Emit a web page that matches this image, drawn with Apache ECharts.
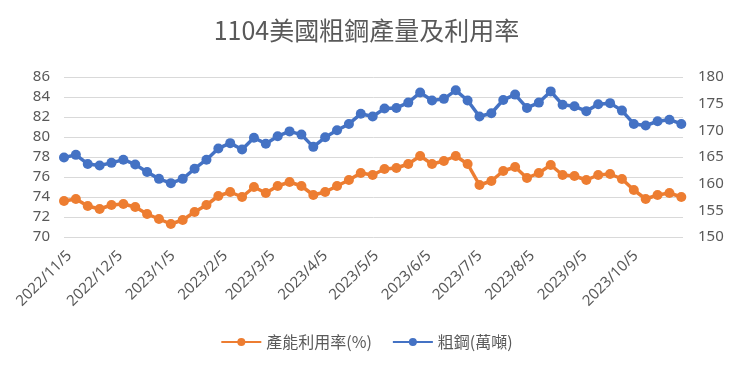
<!DOCTYPE html>
<html>
<head>
<meta charset="utf-8">
<script src="https://cdn.jsdelivr.net/npm/echarts@6/dist/echarts.min.js"></script>
<style>
html,body{margin:0;padding:0;background:#fff;}
#c{width:733px;height:368px;}
</style>
</head>
<body>
<div id="c"></div>
<script>
const dates = [
  '2022/11/5','2022/11/12','2022/11/19','2022/11/26','2022/12/3','2022/12/10','2022/12/17','2022/12/24','2022/12/31',
  '2023/1/7','2023/1/14','2023/1/21','2023/1/28','2023/2/4','2023/2/11','2023/2/18','2023/2/25',
  '2023/3/4','2023/3/11','2023/3/18','2023/3/25','2023/4/1','2023/4/8','2023/4/15','2023/4/22','2023/4/29',
  '2023/5/6','2023/5/13','2023/5/20','2023/5/27','2023/6/3','2023/6/10','2023/6/17','2023/6/24',
  '2023/7/1','2023/7/8','2023/7/15','2023/7/22','2023/7/29','2023/8/5','2023/8/12','2023/8/19','2023/8/26',
  '2023/9/2','2023/9/9','2023/9/16','2023/9/23','2023/9/30','2023/10/7','2023/10/14','2023/10/21','2023/10/28','2023/11/4'
];
const utilization = [
  73.6,73.8,73.1,72.8,73.2,73.3,73.0,72.3,71.8,71.3,71.7,72.5,73.2,74.1,74.5,74.0,75.0,74.4,75.1,75.5,75.1,74.2,74.5,75.1,75.7,76.4,76.2,
  76.8,76.9,77.3,78.1,77.3,77.6,78.1,77.3,75.2,75.6,76.6,77.0,75.9,76.4,77.2,76.2,76.1,75.7,76.2,76.3,75.8,74.7,73.8,74.2,74.4,74.0
];
const steel = [
  164.9,165.4,163.7,163.4,163.9,164.5,163.6,162.2,160.9,160.1,160.9,162.8,164.5,166.6,167.6,166.4,168.6,167.5,168.9,169.8,169.2,166.9,168.7,170.0,171.2,173.1,172.6,
  174.1,174.2,175.2,177.1,175.6,175.9,177.5,175.6,172.6,173.2,175.7,176.7,174.2,175.2,177.3,174.8,174.5,173.6,174.9,175.1,173.7,171.2,170.9,171.7,172.0,171.2
];
const xTickLabels = ['2022/11/5','2022/12/5','2023/1/5','2023/2/5','2023/3/5','2023/4/5','2023/5/5','2023/6/5','2023/7/5','2023/8/5','2023/9/5','2023/10/5'];
const leftTicks = [70,72,74,76,78,80,82,84,86];
const rightTicks = [150,155,160,165,170,175,180];
const titleText = '1104美國粗鋼產量及利用率';
const seriesNames = ['產能利用率(%)','粗鋼(萬噸)'];

const DAY = 86400000;
const T0 = Date.UTC(2022, 10, 5);
function toDay(s){ const p = s.split('/').map(Number); return Math.round((Date.UTC(p[0], p[1]-1, p[2]) - T0) / DAY); }
function fmt(v){ const d = new Date(T0 + Math.round(v) * DAY); return d.getUTCFullYear() + '/' + (d.getUTCMonth()+1) + '/' + d.getUTCDate(); }

const FONT = "'Noto Sans', 'Noto Sans CJK TC', sans-serif";
const TXT = '#595959';

const chart = echarts.init(document.getElementById('c'), null, {renderer:'canvas'});
chart.setOption({
  animation:false,
  backgroundColor:'#fff',
  textStyle:{fontFamily:FONT},
  title:{
    text:titleText, left:'center', top:13,
    textStyle:{fontFamily:"'Noto Sans CJK TC', sans-serif", fontSize:25, fontWeight:'normal', color:TXT}
  },
  legend:{
    bottom:13, left:'center', itemWidth:40, itemHeight:10, itemGap:20,
    textStyle:{fontFamily:"'Noto Sans CJK TC', sans-serif", fontSize:16, color:TXT},
    data:seriesNames
  },
  grid:{left:64, right:50, top:77, bottom:131, containLabel:false},
  xAxis:{
    type:'value',
    min:toDay('2022/11/5'), max:toDay('2023/11/5'),
    axisLine:{show:false}, axisTick:{show:false}, splitLine:{show:false},
    axisLabel:{
      customValues:xTickLabels.map(toDay),
      formatter:fmt, rotate:45, margin:11, verticalAlign:'top', fontSize:15, color:TXT, fontFamily:FONT,
      showMinLabel:true, showMaxLabel:true, hideOverlap:false
    }
  },
  yAxis:[
    {type:'value', min:leftTicks[0], max:leftTicks[leftTicks.length-1], interval:2,
     axisLine:{show:false}, axisTick:{show:false},
     axisLabel:{fontSize:15, color:TXT, margin:14, fontFamily:FONT},
     splitLine:{lineStyle:{color:'#D9D9D9', width:1}}},
    {type:'value', min:rightTicks[0], max:rightTicks[rightTicks.length-1], interval:5,
     axisLine:{show:false}, axisTick:{show:false},
     axisLabel:{fontSize:15, color:TXT, margin:15, fontFamily:FONT},
     splitLine:{show:false}}
  ],
  series:[
    {name:seriesNames[0], type:'line', yAxisIndex:0,
     data:dates.map((d,i)=>[toDay(d), utilization[i]]),
     symbol:'circle', symbolSize:10, showAllSymbol:true,
     itemStyle:{color:'#ED7D31'}, lineStyle:{color:'#ED7D31', width:3.5}},
    {name:seriesNames[1], type:'line', yAxisIndex:1,
     data:dates.map((d,i)=>[toDay(d), steel[i]]),
     symbol:'circle', symbolSize:10, showAllSymbol:true,
     itemStyle:{color:'#4472C4'}, lineStyle:{color:'#4472C4', width:3.5}}
  ]
});
</script>
</body>
</html>
